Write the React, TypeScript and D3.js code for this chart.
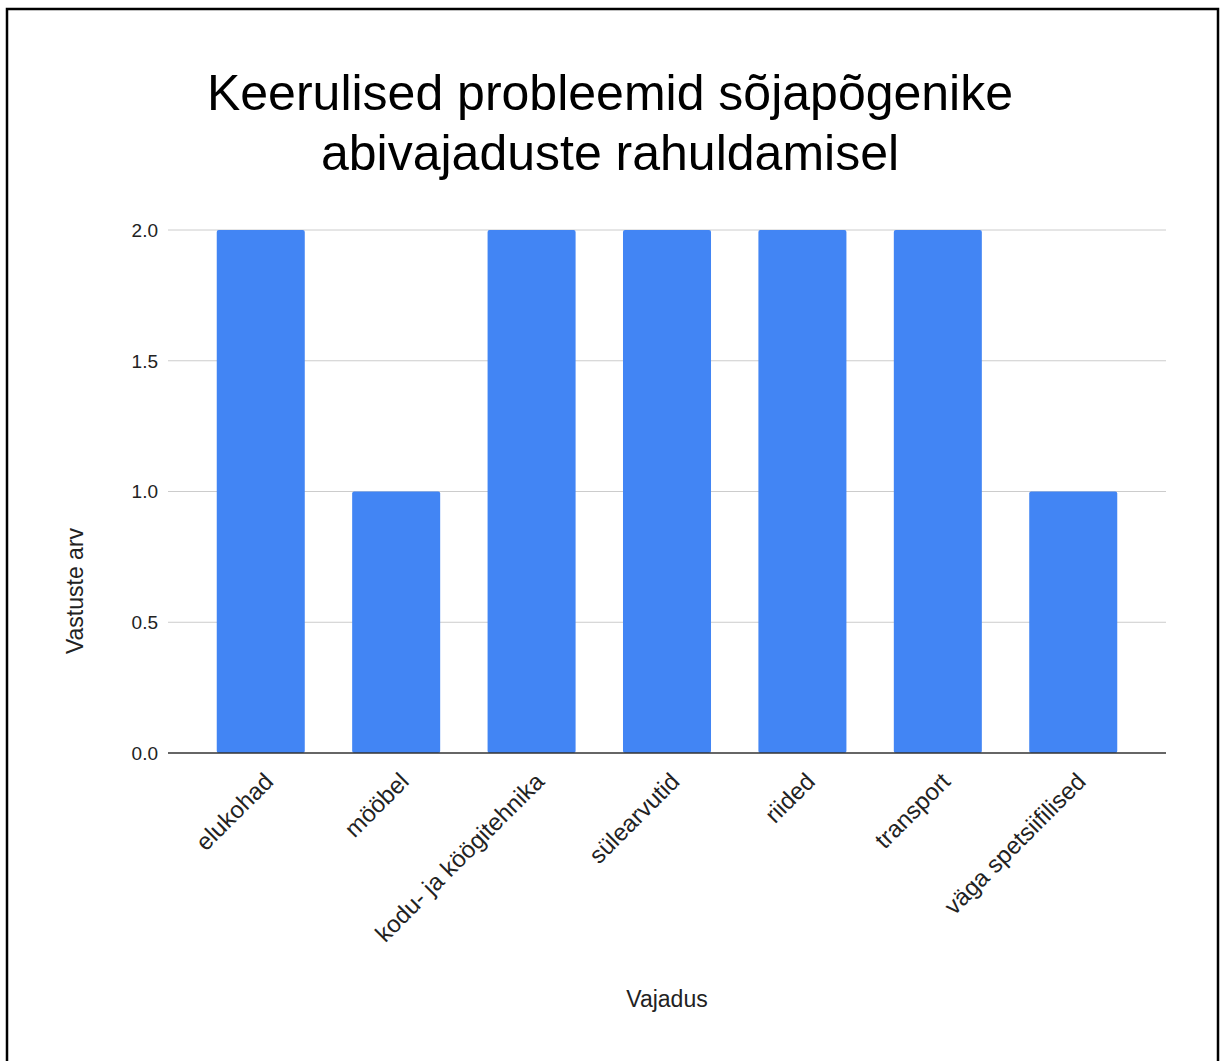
import React from 'react'
import * as d3 from 'd3'

const categories = [
  'elukohad',
  'mööbel',
  'kodu- ja köögitehnika',
  'sülearvutid',
  'riided',
  'transport',
  'väga spetsiifilised',
]
const counts = [2, 1, 2, 2, 2, 2, 1]
const yTicks = [0, 0.5, 1, 1.5, 2]
const titleLines = ['Keerulised probleemid sõjapõgenike', 'abivajaduste rahuldamisel']
const xTitle = 'Vajadus'
const yTitle = 'Vastuste arv'

const W = 1220
const H = 1061
const PLOT = { left: 168, right: 1166, top: 230, bottom: 753 }
const FONT = '"Liberation Sans", Arial, sans-serif'

export default function App() {
  const x = d3
    .scaleBand<string>()
    .domain(categories)
    .range([PLOT.left, PLOT.right])
    .paddingInner(0.35)
    .paddingOuter(0.36)

  const y = d3.scaleLinear().domain([0, 2]).range([PLOT.bottom, PLOT.top])

  return (
    <svg
      width={W}
      height={H}
      style={{ position: 'absolute', left: 0, top: 0, background: '#fff' }}
      fontFamily={FONT}
    >
      <rect x={0} y={0} width={W} height={H} fill="#fff" />
      {/* frame */}
      <rect x={7} y={9} width={1211} height={1120} fill="none" stroke="#000" strokeWidth={2.5} />

      {/* title */}
      {titleLines.map((t, i) => (
        <text key={i} x={610} y={110 + i * 60} textAnchor="middle" fontSize={50} fill="#000">
          {t}
        </text>
      ))}

      {/* gridlines + y ticks */}
      {yTicks.map((t) => (
        <g key={t}>
          {t !== 0 && (
            <line x1={PLOT.left} x2={PLOT.right} y1={y(t)} y2={y(t)} stroke="#cccccc" strokeWidth={1} />
          )}
          <text x={158} y={y(t)} dy="0.36em" textAnchor="end" fontSize={19} fill="#222">
            {d3.format('.1f')(t)}
          </text>
        </g>
      ))}

      {/* bars */}
      {categories.map((c, i) => (
        <rect
          key={c}
          x={x(c)}
          y={y(counts[i])}
          width={x.bandwidth()}
          height={y(0) - y(counts[i])}
          fill="#4285f4"
          rx={2}
        />
      ))}

      {/* baseline */}
      <line x1={PLOT.left} x2={PLOT.right} y1={y(0)} y2={y(0)} stroke="#333" strokeWidth={1.5} />

      {/* category labels */}
      {categories.map((c) => {
        const cx = (x(c) ?? 0) + x.bandwidth() / 2
        return (
          <text
            key={c}
            transform={`translate(${cx + 14},${y(0) + 30}) rotate(-45)`}
            textAnchor="end"
            fontSize={24}
            fill="#222"
          >
            {c}
          </text>
        )
      })}

      {/* axis titles */}
      <text x={(PLOT.left + PLOT.right) / 2} y={1007} textAnchor="middle" fontSize={23} fill="#222">
        {xTitle}
      </text>
      <text transform={`translate(83,591) rotate(-90)`} textAnchor="middle" fontSize={23} fill="#222">
        {yTitle}
      </text>
    </svg>
  )
}
